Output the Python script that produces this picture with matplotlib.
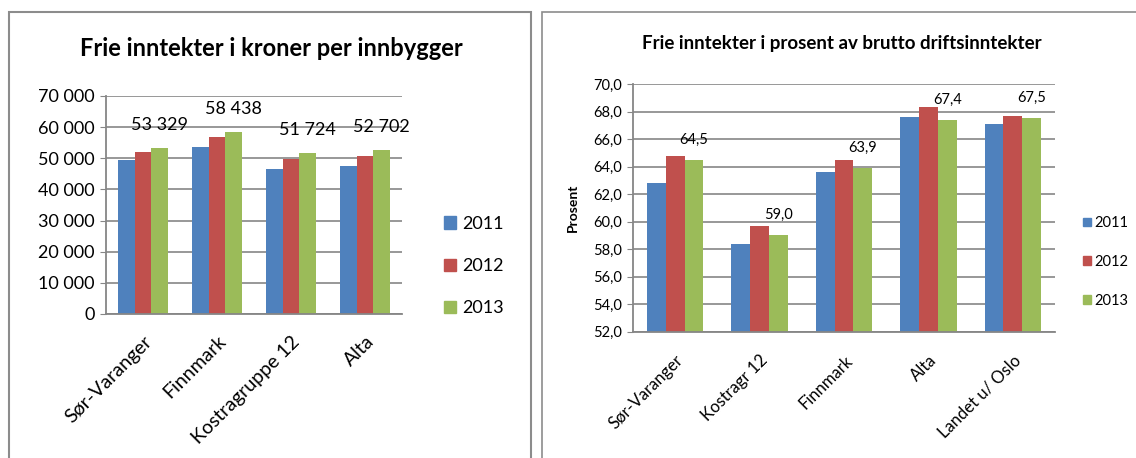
import numpy as np
import matplotlib
matplotlib.use('Agg')
import matplotlib.pyplot as plt
from matplotlib.patches import Rectangle, Patch
from matplotlib.ticker import FuncFormatter

plt.rcParams['font.family'] = ['Lato', 'DejaVu Sans']

years = ['2011', '2012', '2013']
colors = ['#4F81BD', '#C0504D', '#9BBB59']

# kroner per innbygger
kr_cats = ['Sør-Varanger', 'Finnmark', 'Kostragruppe 12', 'Alta']
kr_2011 = [49400, 53600, 46700, 47500]
kr_2012 = [52000, 56800, 49800, 50600]
kr_2013 = [53329, 58438, 51724, 52702]

# prosent av brutto driftsinntekter
pct_cats = ['Sør-Varanger', 'Kostragr 12', 'Finnmark', 'Alta', 'Landet u/ Oslo']
pct_2011 = [62.8, 58.4, 63.6, 67.6, 67.1]
pct_2012 = [64.8, 59.7, 64.5, 68.3, 67.7]
pct_2013 = [64.5, 59.0, 63.9, 67.4, 67.5]

GRID = '#868686'


def draw(ax, cats, series, fs, xfs, xpad, label_fmt, label_off):
    x = np.arange(len(cats))
    w = 2 / 9
    for i, vals in enumerate(series):
        ax.bar(x + (i - 1) * w, vals, w, color=colors[i], label=years[i], zorder=2)
    for xi, v in zip(x, series[2]):
        ax.annotate(label_fmt(v), (xi + w, v), xytext=(0, label_off),
                    textcoords='offset points', ha='center', va='center',
                    fontsize=fs, zorder=3)
    ax.set_xlim(-0.5, len(cats) - 0.5)
    ax.set_xticks(x)
    ax.set_xticklabels(cats, rotation=45, ha='right', va='top',
                       rotation_mode='anchor', fontsize=xfs)
    ax.tick_params(axis='x', length=0, pad=xpad)
    ax.tick_params(axis='y', length=4, color=GRID, labelsize=fs, pad=4)
    ax.yaxis.grid(True, color=GRID, lw=1.2)
    ax.set_axisbelow(True)
    for s in ['top', 'right']:
        ax.spines[s].set_visible(False)
    for s in ['left', 'bottom']:
        ax.spines[s].set_color(GRID)
        ax.spines[s].set_linewidth(1.3)


fig = plt.figure(figsize=(11.36, 4.58), dpi=100)

# panel frames
fig.add_artist(Rectangle((9 / 1136, -0.1), 522 / 1136, 1.1 - 12 / 458,
                         transform=fig.transFigure, fill=False, ec='#8c8c8c', lw=1.5))
fig.add_artist(Rectangle((542 / 1136, -0.1), 0.6, 1.1 - 12 / 458,
                         transform=fig.transFigure, fill=False, ec='#8c8c8c', lw=1.2))

# left chart
ax1 = fig.add_axes([106 / 1136, 1 - 314 / 458, 296 / 1136, 218 / 458])
draw(ax1, kr_cats, [kr_2011, kr_2012, kr_2013], 13, 14, 13.5,
     lambda v: f'{v:,}'.replace(',', ' '), 16.5)
ax1.set_ylim(0, 70000)
ax1.set_yticks(range(0, 70001, 10000))
ax1.yaxis.set_major_formatter(FuncFormatter(lambda v, p: f'{int(v):,}'.replace(',', ' ')))
fig.text(271 / 1136, 1 - 48 / 458, 'Frie inntekter i kroner per innbygger',
         ha='center', va='center', fontsize=17, fontweight='bold')
h1 = [Patch(color=c) for c in colors]
fig.legend(h1, years, loc='center left', bbox_to_anchor=(444 / 1136, 1 - 266 / 458),
           frameon=False, fontsize=13, borderpad=0, borderaxespad=0,
           handlelength=0.67, handleheight=0.67, handletextpad=0.35, labelspacing=1.45)

# right chart
ax2 = fig.add_axes([633 / 1136, 1 - 331.5 / 458, 422 / 1136, 247.5 / 458])
draw(ax2, pct_cats, [pct_2011, pct_2012, pct_2013], 10.5, 12, 15,
     lambda v: f'{v:.1f}'.replace('.', ','), 14.4)
ax2.set_ylim(52, 70)
ax2.set_yticks(np.arange(52, 70.1, 2))
ax2.yaxis.set_major_formatter(FuncFormatter(lambda v, p: f'{v:.1f}'.replace('.', ',')))
ax2.set_ylabel('Prosent', fontsize=10, fontweight='bold')
ax2.yaxis.set_label_coords(-0.128, 0.5)
fig.text(842 / 1136, 1 - 44 / 458, 'Frie inntekter i prosent av brutto driftsinntekter',
         ha='center', va='center', fontsize=13.5, fontweight='bold')
h2 = [Patch(color=c) for c in colors]
fig.legend(h2, years, loc='center left', bbox_to_anchor=(1083 / 1136, 1 - 262 / 458),
           frameon=False, fontsize=10.5, borderpad=0, borderaxespad=0,
           handlelength=0.55, handleheight=0.55, handletextpad=0.2, labelspacing=1.7)

fig.savefig('out.png', dpi=100)
